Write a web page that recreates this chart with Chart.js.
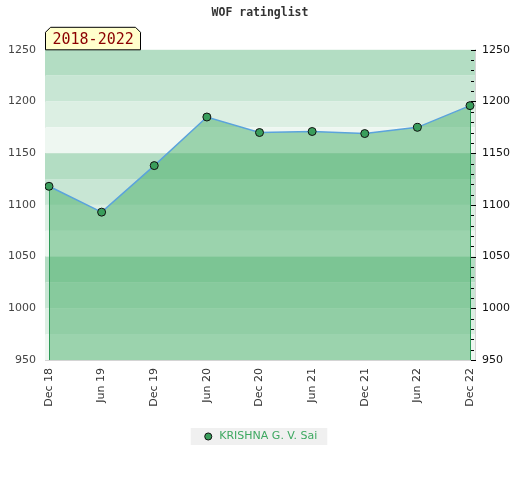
<!DOCTYPE html>
<html>
<head>
<meta charset="utf-8">
<script src="https://cdn.jsdelivr.net/npm/chart.js@4/dist/chart.umd.min.js"></script>
<style>
  body { margin: 0; background: #fff; }
  #wrap { width: 520px; height: 480px; }
</style>
</head>
<body>
<div id="wrap"><canvas id="rating-chart" width="520" height="480"></canvas></div>
<script>
const dates = ['Dec 18', 'Jun 19', 'Dec 19', 'Jun 20', 'Dec 20', 'Jun 21', 'Dec 21', 'Jun 22', 'Dec 22'];
const ratings = [1118, 1093, 1138, 1185, 1170, 1171, 1169, 1175, 1196];
const playerName = 'KRISHNA G. V. Sai';
const periodLabel = '2018-2022';
const yMin = 950;
const yMax = 1250;

// stripes behind the plot, repeating every 100 points from the top
const bandColors = ['#b3ddc3', '#c8e6d4', '#dcefe3', '#eef7f1'];

const stripes = {
    id: 'stripes',
    beforeDatasetsDraw(chart) {
        const { ctx, chartArea, scales } = chart;
        const y = scales.y;
        ctx.save();
        for (let v = yMax; v > yMin; v -= 25) {
            const top = y.getPixelForValue(v);
            const bottom = y.getPixelForValue(v - 25);
            ctx.fillStyle = bandColors[((yMax - v) / 25) % 4];
            ctx.fillRect(chartArea.left, top, chartArea.right - chartArea.left, bottom - top);
        }
        ctx.restore();
    },
    beforeDatasetDraw(chart) {
        // green edges of the filled area
        const { ctx, chartArea } = chart;
        const pts = chart.getDatasetMeta(0).data;
        ctx.save();
        ctx.strokeStyle = '#2f9a58';
        ctx.lineWidth = 1;
        [pts[0], pts[pts.length - 1]].forEach(p => {
            ctx.beginPath();
            ctx.moveTo(Math.round(p.x) + 0.5, p.y);
            ctx.lineTo(Math.round(p.x) + 0.5, chartArea.bottom);
            ctx.stroke();
        });
        ctx.restore();
    }
};

const decorations = {
    id: 'decorations',
    beforeDraw(chart) {
        // grey box behind the legend
        const hb = chart.legend.legendHitBoxes[0];
        if (!hb) return;
        const { ctx } = chart;
        ctx.save();
        ctx.fillStyle = '#f0f0f0';
        ctx.fillRect(hb.left - 12, hb.top - 3, hb.width + 22, hb.height + 6);
        ctx.restore();
    },
    afterDraw(chart) {
        const { ctx, chartArea, scales } = chart;
        ctx.save();

        // inward tick marks on the right axis, every 10 points
        const y1 = scales.y1;
        const right = Math.round(chartArea.right);
        ctx.strokeStyle = '#000';
        ctx.lineWidth = 1;
        for (let v = yMin; v <= yMax; v += 10) {
            const py = Math.round(y1.getPixelForValue(v)) + 0.5;
            const major = v % 50 === 0;
            ctx.beginPath();
            ctx.moveTo(right - 4, py);
            ctx.lineTo(right + (major ? 1 : -1), py);
            ctx.stroke();
        }

        // period tag above the top-left corner
        const x = chartArea.left + 0.5, w = 95, h = 23, c = 5;
        const yb = chartArea.top, yt = yb - h + 0.5;
        ctx.beginPath();
        ctx.moveTo(x, yb);
        ctx.lineTo(x, yt + c);
        ctx.lineTo(x + c, yt);
        ctx.lineTo(x + w - c, yt);
        ctx.lineTo(x + w, yt + c);
        ctx.lineTo(x + w, yb);
        ctx.closePath();
        ctx.fillStyle = '#ffffcc';
        ctx.fill();
        ctx.strokeStyle = '#000';
        ctx.stroke();
        ctx.fillStyle = '#8b0000';
        ctx.font = '15px "DejaVu Sans Mono"';
        ctx.textBaseline = 'middle';
        ctx.fillText(periodLabel, x + 7, yt + h / 2 + 1);
        ctx.restore();
    }
};

const ctx = document.getElementById('rating-chart').getContext('2d');
const chart = new Chart(ctx, {
    type: 'line',
    data: {
        datasets: [{
            label: playerName,
            data: ratings.map((r, i) => ({ x: i, y: r })),
            borderColor: '#5ba3dc',
            borderWidth: 1.5,
            backgroundColor: 'rgba(61, 169, 96, 0.47)',
            fill: 'start',
            tension: 0,
            pointRadius: 4,
            pointBackgroundColor: '#3a9e5c',
            pointBorderColor: '#111',
            pointBorderWidth: 1
        }]
    },
    plugins: [stripes, decorations],
    options: {
        responsive: false,
        animation: false,
        layout: { padding: { left: 0, right: 0, top: 0, bottom: 28 } },
        scales: {
            x: {
                type: 'linear',
                min: -0.076,
                max: 8.095,
                z: 1,
                afterBuildTicks(scale) {
                    scale.ticks = dates.map((d, i) => ({ value: i }));
                },
                afterFit(scale) { scale.height = 61; },
                grid: { display: false, drawTicks: false },
                border: { display: true, color: '#d4d4d4', width: 1 },
                ticks: {
                    autoSkip: false,
                    minRotation: 90,
                    maxRotation: 90,
                    padding: 8,
                    color: '#333',
                    font: { family: 'DejaVu Sans', size: 11 },
                    callback: v => dates[v]
                }
            },
            y: {
                position: 'left',
                min: yMin,
                max: yMax,
                z: 1,
                afterFit(scale) { scale.width = 45; },
                grid: { display: false, drawTicks: false },
                border: { display: true, color: '#d4d4d4', width: 1 },
                ticks: {
                    stepSize: 50,
                    padding: 9,
                    color: '#444',
                    font: { family: 'DejaVu Sans', size: 11 },
                    callback: v => String(v)
                }
            },
            y1: {
                position: 'right',
                min: yMin,
                max: yMax,
                z: 1,
                afterFit(scale) { scale.width = 45; },
                grid: { display: false, drawTicks: false },
                border: { display: true, color: '#d4d4d4', width: 1 },
                ticks: {
                    stepSize: 50,
                    padding: 7,
                    color: '#111',
                    font: { family: 'DejaVu Sans', size: 11 },
                    callback: v => String(v)
                }
            }
        },
        plugins: {
            title: {
                display: true,
                text: 'WOF ratinglist',
                color: '#333',
                font: { family: 'DejaVu Sans Mono', size: 11.5, weight: 'bold' },
                padding: { top: 6, bottom: 30 }
            },
            legend: {
                position: 'bottom',
                labels: {
                    usePointStyle: true,
                    pointStyle: 'circle',
                    boxHeight: 5,
                    boxWidth: 11,
                    padding: 10,
                    color: '#3da860',
                    font: { family: 'DejaVu Sans', size: 11 }
                }
            },
            tooltip: { enabled: false }
        }
    }
});
</script>
</body>
</html>
